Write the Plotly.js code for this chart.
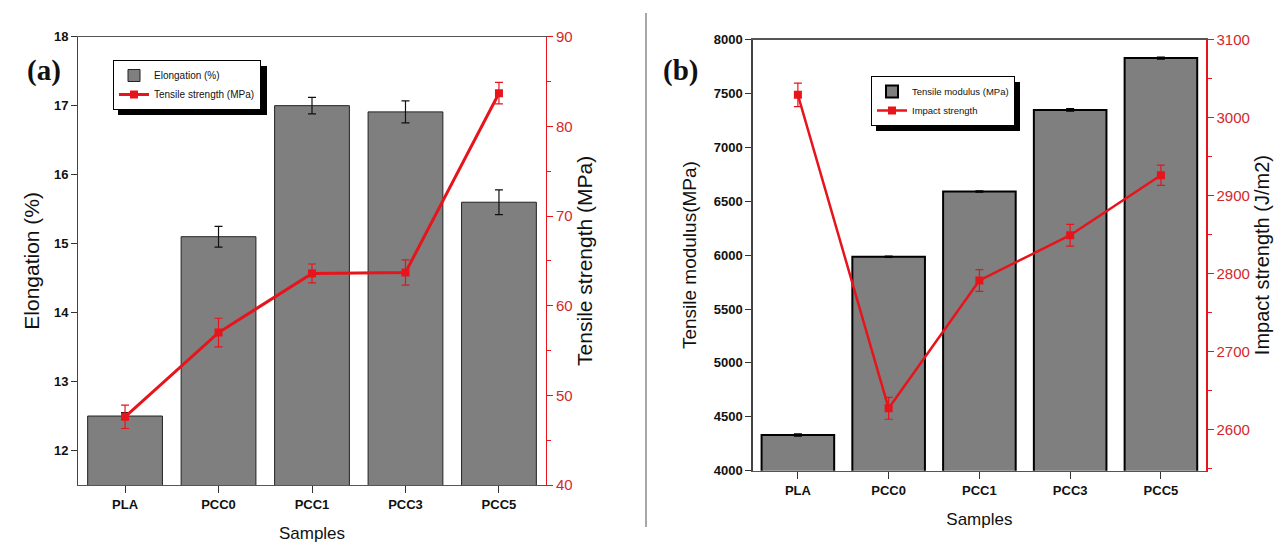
<!DOCTYPE html>
<html>
<head>
<meta charset="utf-8">
<script src="https://cdn.plot.ly/plotly-3.0.1.min.js"></script>
<style>html,body{margin:0;padding:0;background:#fff;}#chart{width:1274px;height:552px;}</style>
</head>
<body>
<div id="chart"></div>
<script>
// ---- data ----
const categories = ['PLA', 'PCC0', 'PCC1', 'PCC3', 'PCC5'];
const elongation = [12.5, 15.1, 17.0, 16.91, 15.6];
const elongationErr = [0.05, 0.15, 0.12, 0.16, 0.18];
const tensileStrength = [47.6, 57.0, 63.6, 63.7, 83.7];
const tensileStrengthErr = [1.3, 1.6, 1.05, 1.4, 1.2];
const tensileModulus = [4331, 5985, 6590, 7347, 7828];
const tensileModulusErr = [10, 5, 5, 10, 8];
const impactStrength = [3029, 2627, 2791, 2849, 2926];
const impactStrengthErr = [15, 14, 14, 14, 13];

const W = 1274, H = 552;
const px = v => v / W;
const py = v => 1 - v / H;
const RED = '#e8141c';
const REDTXT = '#d2282d';
const FONT = 'Liberation Sans, Arial, sans-serif';

const traces = [
  {type: 'bar', x: categories, y: elongation, name: 'Elongation (%)', xaxis: 'x', yaxis: 'y',
   width: 0.8, marker: {color: '#7f7f7f', line: {color: '#222', width: 1}},
   error_y: {type: 'data', array: elongationErr, color: '#111', thickness: 1.2, width: 4},
   legend: 'legend'},
  {type: 'scatter', mode: 'lines+markers', x: categories, y: tensileStrength, name: 'Tensile strength (MPa)',
   xaxis: 'x', yaxis: 'y2', line: {color: RED, width: 3}, marker: {symbol: 'square', size: 8, color: RED},
   error_y: {type: 'data', array: tensileStrengthErr, color: RED, thickness: 1.2, width: 4},
   legend: 'legend'},
  {type: 'bar', x: categories, y: tensileModulus, name: 'Tensile modulus (MPa)', xaxis: 'x2', yaxis: 'y3',
   width: 0.8, marker: {color: '#7f7f7f', line: {color: '#000', width: 2}},
   error_y: {type: 'data', array: tensileModulusErr, color: '#000', thickness: 1.5, width: 4},
   legend: 'legend2'},
  {type: 'scatter', mode: 'lines+markers', x: categories, y: impactStrength, name: 'Impact strength',
   xaxis: 'x2', yaxis: 'y4', line: {color: RED, width: 2.5}, marker: {symbol: 'square', size: 8, color: RED},
   error_y: {type: 'data', array: impactStrengthErr, color: RED, thickness: 1.2, width: 4},
   legend: 'legend2'}
];

const xCommon = {
  type: 'category', range: [-0.5, 4.5], showline: true, linecolor: '#555', linewidth: 1.2, mirror: true,
  ticks: 'outside', ticklen: 7, tickcolor: '#333', showgrid: false, zeroline: false,
  tickfont: {family: FONT, size: 13, color: '#111', weight: 'bold'}, automargin: false
};
const yLeftCommon = {
  showline: true, linecolor: '#444', linewidth: 1.2, ticks: 'outside', ticklen: 6, tickcolor: '#333',
  showgrid: false, zeroline: false, tickfont: {family: FONT, size: 13, color: '#111', weight: 'bold'},
  automargin: false
};
const yRightCommon = {
  side: 'right', showline: true, linecolor: RED, linewidth: 1.2, ticks: 'outside', ticklen: 6, tickcolor: RED,
  showgrid: false, zeroline: false, tickfont: {family: FONT, size: 15, color: REDTXT}, automargin: false
};

const layout = {
  width: W, height: H, margin: {l: 0, r: 0, t: 0, b: 0}, paper_bgcolor: '#fff', plot_bgcolor: '#fff',
  font: {family: FONT, color: '#111'},
  barmode: 'group',
  xaxis: Object.assign({}, xCommon, {domain: [px(78.3), px(545.7)], anchor: 'y',
    title: {text: 'Samples', font: {family: FONT, size: 17, color: '#111'}, standoff: 16}}),
  yaxis: Object.assign({}, yLeftCommon, {domain: [1 - 485 / H, 1 - 36.7 / H], anchor: 'x', range: [11.5, 18], dtick: 1,
    title: {text: 'Elongation (%)', font: {family: FONT, size: 21, color: '#111'}, standoff: 8}}),
  yaxis2: Object.assign({}, yRightCommon, {overlaying: 'y', anchor: 'x', range: [40, 90], dtick: 10,
    minor: {dtick: 5, ticks: 'outside', ticklen: 4, tickcolor: RED, showgrid: false},
    title: {text: 'Tensile strength (MPa)', font: {family: FONT, size: 21, color: '#111'}, standoff: 5}}),
  xaxis2: Object.assign({}, xCommon, {domain: [px(752.5), px(1206.3)], anchor: 'y3',
    title: {text: 'Samples', font: {family: FONT, size: 17, color: '#111'}, standoff: 16}}),
  yaxis3: Object.assign({}, yLeftCommon, {domain: [1 - 470.7 / H, 1 - 39.5 / H], anchor: 'x2', range: [4000, 8000], dtick: 500,
    title: {text: 'Tensile modulus(MPa)', font: {family: FONT, size: 19, color: '#111'}, standoff: 12}}),
  yaxis4: Object.assign({}, yRightCommon, {overlaying: 'y3', anchor: 'x2', range: [2547, 3100], tick0: 0, dtick: 100,
    minor: {dtick: 50, ticks: 'outside', ticklen: 4, tickcolor: RED, showgrid: false},
    title: {text: 'Impact strength (J/m2)', font: {family: FONT, size: 20, color: '#111'}, standoff: 6}}),
  legend: {x: px(113), y: py(60), xanchor: 'left', yanchor: 'top', bgcolor: '#fff', bordercolor: '#000', borderwidth: 1,
    font: {family: FONT, size: 10, color: '#111'}, tracegroupgap: 0, traceorder: 'normal'},
  legend2: {x: px(871), y: py(76), xanchor: 'left', yanchor: 'top', bgcolor: '#fff', bordercolor: '#000', borderwidth: 1,
    font: {family: FONT, size: 9.5, color: '#111'}, tracegroupgap: 0, traceorder: 'normal'},
  showlegend: true,
  shapes: [
    {type: 'rect', xref: 'paper', yref: 'paper', x0: px(118), x1: px(267), y0: py(115), y1: py(66),
     fillcolor: '#000', line: {width: 0}, layer: 'above'},
    {type: 'rect', xref: 'paper', yref: 'paper', x0: px(876), x1: px(1020), y0: py(131), y1: py(82),
     fillcolor: '#000', line: {width: 0}, layer: 'above'},
    {type: 'line', xref: 'paper', yref: 'paper', x0: px(646), x1: px(646), y0: py(13), y1: py(527),
     line: {color: '#8a8a8a', width: 1.5}}
  ],
  annotations: [
    {text: '(a)', xref: 'paper', yref: 'paper', x: px(43.5), y: py(70), xanchor: 'center', yanchor: 'middle',
     showarrow: false, font: {family: 'Liberation Serif, Times New Roman, serif', size: 29, color: '#111', weight: 'bold'}},
    {text: '(b)', xref: 'paper', yref: 'paper', x: px(680), y: py(70), xanchor: 'center', yanchor: 'middle',
     showarrow: false, font: {family: 'Liberation Serif, Times New Roman, serif', size: 29, color: '#111', weight: 'bold'}}
  ]
};

Plotly.newPlot('chart', traces, layout, {staticPlot: true, displayModeBar: false});
</script>
</body>
</html>
